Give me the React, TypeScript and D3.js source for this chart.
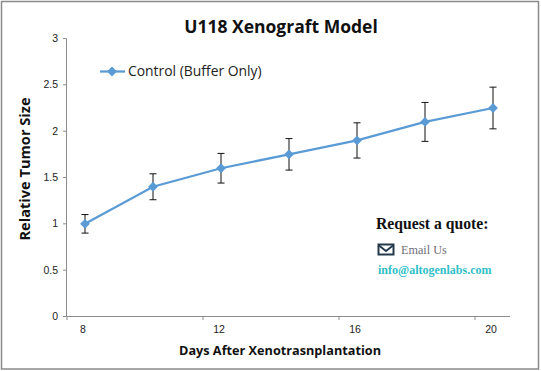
import React from "react";
import * as d3 from "d3";

const days = [8, 10, 12, 14, 16, 18, 20];
const values = [1.0, 1.4, 1.6, 1.75, 1.9, 2.1, 2.25];
const errors = [0.1, 0.14, 0.16, 0.17, 0.19, 0.21, 0.225];
const yTicks = [0, 0.5, 1, 1.5, 2, 2.5, 3];
const xTickDays = [8, 12, 16, 20];
const seriesName = "Control (Buffer Only)";

const x = d3.scaleLinear().domain([8, 20]).range([85, 493]);
const y = d3.scaleLinear().domain([0, 3]).range([316.5, 38.5]);
const tickOffset = 18;

export default function App() {
  const line = d3.line<number>().x((_, i) => x(days[i])).y((d) => y(d));
  const sym = d3.symbol().type(d3.symbolSquare).size(48)() as string;
  const sans = "'Liberation Sans', Arial, sans-serif";
  const body = "'Open Sans', 'Noto Sans', sans-serif";
  const serif = "'Liberation Serif', serif";
  const blue = "#5b9bd5";
  return (
    <svg width={541} height={371} style={{ position: "absolute", left: 0, top: 0, background: "#fff" }}>
      <rect x={1.5} y={1.5} width={537} height={367.5} fill="#fff" stroke="#8a8a8a" strokeWidth={1.5} />
      <text x={281} y={33} textAnchor="middle" fontFamily={body} fontWeight={700} fontSize={17.5} fill="#111">U118 Xenograft Model</text>

      <line x1={66.5} x2={66.5} y1={y(3)} y2={y(0)} stroke="#8c8c8c" />
      <line x1={66.5} x2={510} y1={316.5} y2={316.5} stroke="#8c8c8c" />
      {yTicks.map((t) => (
        <g key={t}>
          <line x1={63} x2={66.5} y1={y(t)} y2={y(t)} stroke="#8c8c8c" />
          <text x={58} y={y(t) + 3.5} textAnchor="end" fontFamily={sans} fontSize={10.5} fill="#222">{t}</text>
        </g>
      ))}
      {xTickDays.map((t) => (
        <g key={t}>
          <line x1={x(t) - tickOffset} x2={x(t) - tickOffset} y1={316.5} y2={320} stroke="#8c8c8c" />
          <text x={x(t) - 2} y={333} textAnchor="middle" fontFamily={sans} fontSize={10.5} fill="#222">{t}</text>
        </g>
      ))}

      <path d={line(values) as string} fill="none" stroke={blue} strokeWidth={2.25} />
      {days.map((d, i) => (
        <g key={d}>
          <path
            d={`M${x(d)},${y(values[i] + errors[i])}V${y(values[i] - errors[i])}M${x(d) - 3.5},${y(values[i] + errors[i])}h7M${x(d) - 3.5},${y(values[i] - errors[i])}h7`}
            stroke="#111" fill="none" strokeWidth={1}
          />
          <path d={sym} transform={`translate(${x(d)},${y(values[i])}) rotate(45)`} fill={blue} />
        </g>
      ))}

      <line x1={100} x2={125} y1={71.5} y2={71.5} stroke={blue} strokeWidth={2.25} />
      <path d={sym} transform="translate(112,71.5) rotate(45)" fill={blue} />
      <text x={128} y={76} fontFamily={body} fontSize={13.9} fill="#222">{seriesName}</text>

      <text transform="translate(30,169) rotate(-90)" textAnchor="middle" fontFamily={body} fontWeight={700} fontSize={14.6} fill="#111">Relative Tumor Size</text>
      <text x={280} y={355} textAnchor="middle" fontFamily={body} fontWeight={700} fontSize={12.7} fill="#111">Days After Xenotrasnplantation</text>

      <text x={376} y={229} fontFamily={serif} fontWeight={700} fontSize={15.7} fill="#111">Request a quote:</text>
      <rect x={378.5} y={244.5} width={15} height={10} fill="#fff" stroke="#24384a" strokeWidth={2} />
      <path d="M379,245.5 L386,251 L393,245.5" fill="none" stroke="#24384a" strokeWidth={1.8} />
      <text x={401} y={254} fontFamily={serif} fontSize={12.2} fill="#6f6f78">Email Us</text>
      <text x={378} y={274} fontFamily={serif} fontWeight={700} fontSize={12} fill="#2fc0c8">info@altogenlabs.com</text>
    </svg>
  );
}
